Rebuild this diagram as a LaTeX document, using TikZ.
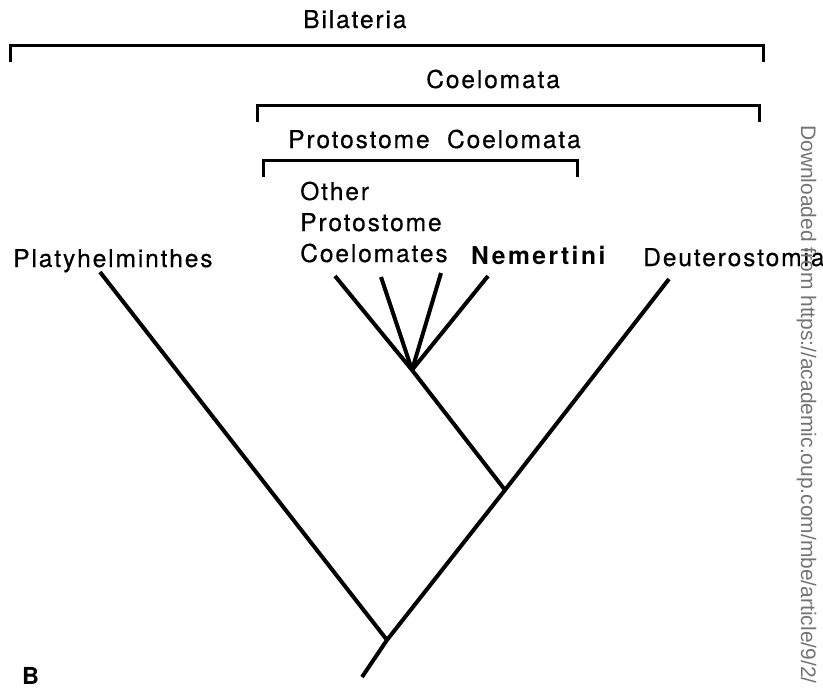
\documentclass[tikz,border=0pt]{standalone}
\usepackage{fontspec}
\setmainfont{TeX Gyre Heros}
\newfontfamily\markfont{Liberation Sans}
\usetikzlibrary{positioning}

\begin{document}
\begin{tikzpicture}[x=0.03cm, y=-0.03cm,
  lbl/.style={inner sep=0pt, anchor=base west, font=\fontsize{21pt}{26.4pt}\selectfont\addfontfeatures{LetterSpace=7.5,FakeBold=0.4}},
  clade/.style={line width=0.09cm},
  branch/.style={line width=0.12cm}]
  \useasboundingbox (0,0) rectangle (823,689);

  \node[lbl] (bil) at (303,28) {Bilateria};
  \coordinate (bil-w) at (10,62); \coordinate (bil-e) at (763,62);
  \draw[clade] (bil-w) -- ++(0,-17) -| (bil-e);

  \node[lbl] (coe) at (426,88) {Coelomata};
  \coordinate (coe-w) at (257,122); \coordinate (coe-e) at (759,122);
  \draw[clade] (coe-w) -- ++(0,-17) -| (coe-e);

  \node[lbl] (pco) at (288,148) {Protostome\ \ Coelomata};
  \coordinate (pco-w) at (263,177); \coordinate (pco-e) at (577,177);
  \draw[clade] (pco-w) -- ++(0,-17) -| (pco-e);

  \node[lbl] (platy) at (13,267) {Platyhelminthes};
  \node[lbl] (other) at (300,200) {Other};
  \node[lbl] (proto) at (300,231) {Protostome};
  \node[lbl] (coelo) at (300,262) {Coelomates};
  \node[lbl, font=\fontsize{21pt}{26.4pt}\selectfont\bfseries\addfontfeatures{LetterSpace=10}] (nem) at (471,264) {Nemertini};
  \node[lbl] (deut) at (643,266) {Deuterostomia};

  \coordinate (t-platy) at (100,272);
  \coordinate (t-o1) at (335,276);
  \coordinate (t-o2) at (381,277);
  \coordinate (t-o3) at (441,273);
  \coordinate (t-nem) at (488,276);
  \coordinate (t-deut) at (669,279);
  \coordinate (n-proto) at (412,370);
  \coordinate (n-coel) at (505,490);
  \coordinate (n-root) at (387,640);
  \coordinate (n-base) at (362,677);

  \draw[branch] (n-base) -- (n-root) -- (n-coel) -- (t-deut);
  \draw[branch] (n-root) -- (t-platy);
  \draw[branch] (n-coel) -- (n-proto);
  \foreach \t in {t-o1,t-o2,t-o3,t-nem}
    \draw[branch] (n-proto) -- (\t);

  \node[inner sep=0pt, anchor=base west, font=\fontsize{20pt}{24pt}\selectfont\bfseries] (panel) at (22,684) {B};
  \node[inner sep=0pt, anchor=base west, rotate=-90, text=black!55, font=\markfont\fontsize{17.9pt}{20pt}\selectfont] (mark) at (801,125) {Downloaded from https://academic.oup.com/mbe/article/9/2/};
\end{tikzpicture}
\end{document}
